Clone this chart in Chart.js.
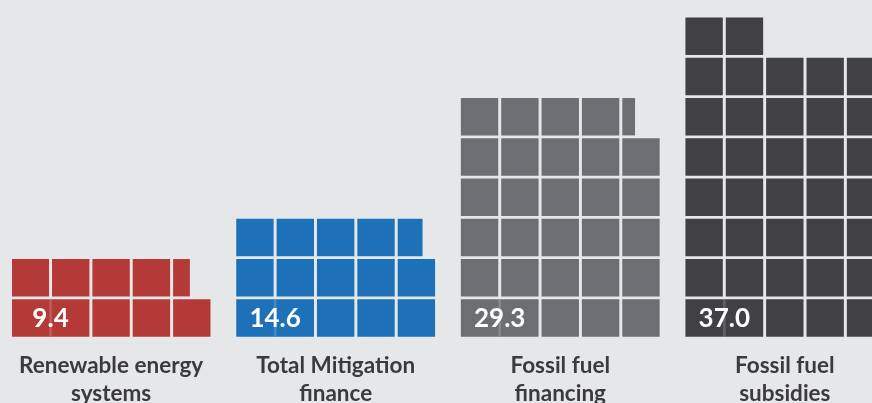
<!DOCTYPE html>
<html>
<head>
<meta charset="utf-8">
<script src="https://cdn.jsdelivr.net/npm/chart.js@4.4.1/dist/chart.umd.min.js"></script>
<style>
  html, body { margin: 0; padding: 0; background: #e6e7e9; }
  #wrap { width: 872px; height: 403px; overflow: hidden; }
  canvas { display: block; }
</style>
</head>
<body>
<div id="wrap"><canvas id="chart" width="872" height="403"></canvas></div>
<script>
// Finance flows, one square per unit
const categories = [
  ['Renewable energy', 'systems'],
  ['Total Mitigation', 'finance'],
  ['Fossil fuel', 'financing'],
  ['Fossil fuel', 'subsidies']
];
const values = [9.4, 14.6, 29.3, 37.0];
const cellsPerRow = 5;

// Styling
const colors = ['#b43a38', '#1d71b8', '#6d6e71', '#414042'];
const GROUP_STEP = 5.565;   // horizontal distance between group origins, in cell units
const GAP = 0.09;           // white space between neighbouring cells, in cell units
const VALUE_FONT_SIZE = 26;

// One floating horizontal bar per square; the first two squares of a group
// are joined into the box that carries the value.
function cellsFor(v, g) {
  const off = g * GROUP_STEP;
  const whole = Math.floor(v + 1e-9);
  const frac = Math.round((v - whole) * 10) / 10;
  const out = [{ x: [off, off + 2 - GAP], y: 0.5 }];
  for (let k = 2; k < whole; k++) {
    const col = k % cellsPerRow, row = Math.floor(k / cellsPerRow);
    out.push({ x: [off + col, off + col + 1 - GAP], y: row + 0.5 });
  }
  if (frac > 0) {
    const col = whole % cellsPerRow, row = Math.floor(whole / cellsPerRow);
    out.push({ x: [off + col, off + col + frac], y: row + 0.5 });
  }
  return out;
}

const datasets = values.map((v, g) => ({
  data: cellsFor(v, g),
  backgroundColor: colors[g],
  borderWidth: 0,
  barThickness: 36.7,
  grouped: false
}));

// Value printed in the joined box, with a faint seam where the two squares meet
const valueLabels = {
  id: 'valueLabels',
  afterDatasetsDraw(chart) {
    const ctx = chart.ctx;
    const xs = chart.scales.x;
    values.forEach((v, g) => {
      const el = chart.getDatasetMeta(g).data[0];
      const top = el.y - el.height / 2;
      const seam = xs.getPixelForValue(g * GROUP_STEP + 1 - GAP / 2);
      ctx.save();
      ctx.fillStyle = 'rgba(255,255,255,0.18)';
      ctx.fillRect(seam - 1.25, top, 2.5, el.height);
      ctx.fillStyle = '#ffffff';
      ctx.font = 'bold ' + VALUE_FONT_SIZE + 'px Lato';
      ctx.textAlign = 'center';
      ctx.textBaseline = 'alphabetic';
      ctx.fillText(v.toFixed(1), (el.x + el.base) / 2, el.y + VALUE_FONT_SIZE * 0.36);
      ctx.restore();
    });
  }
};

function draw() {
  new Chart(document.getElementById('chart'), {
    type: 'bar',
    data: { datasets },
    options: {
      indexAxis: 'y',
      responsive: false,
      animation: false,
      layout: { padding: { left: 12, right: 0, top: 0, bottom: -18 } },
      plugins: { legend: { display: false }, tooltip: { enabled: false } },
      scales: {
        y: {
          type: 'linear', display: false, min: 0, max: 8.4,
          offset: false, grid: { offset: false }
        },
        x: {
          type: 'linear',
          min: 0,
          max: 21.31,
          offset: false,
          grid: { display: false, drawTicks: false },
          border: { display: false },
          afterBuildTicks: (scale) => {
            scale.ticks = values.map((v, g) => ({ value: g * GROUP_STEP + (cellsPerRow - GAP) / 2 }));
          },
          ticks: {
            autoSkip: false,
            maxRotation: 0,
            padding: 14,
            color: '#3b3b3d',
            font: { family: 'Lato', weight: 'bold', size: 22.5, lineHeight: 1.22 },
            callback: (val, i) => categories[i]
          }
        }
      }
    },
    plugins: [valueLabels]
  });
}

document.fonts.load('bold 22px Lato').then(draw, draw);
</script>
</body>
</html>
